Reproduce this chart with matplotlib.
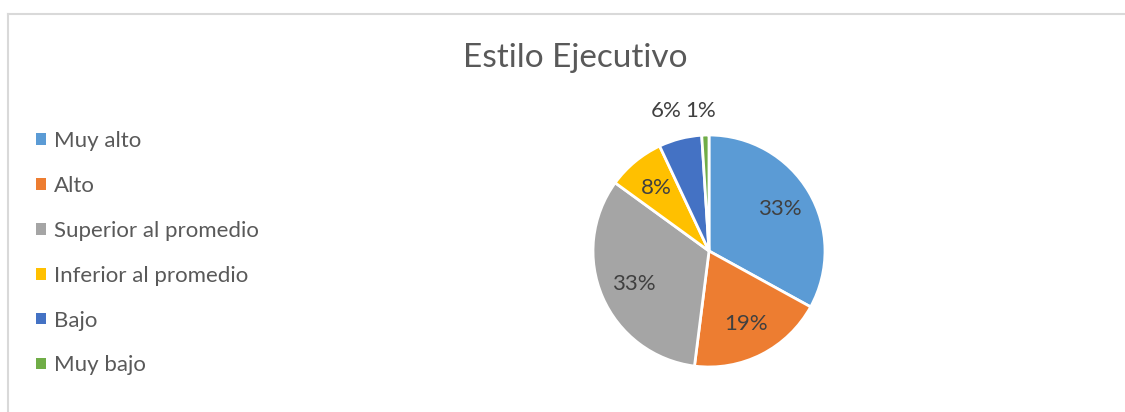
import matplotlib.pyplot as plt
from matplotlib.lines import Line2D
import numpy as np

# datos del grafico
categorias = ['Muy alto', 'Alto', 'Superior al promedio', 'Inferior al promedio', 'Bajo', 'Muy bajo']
porcentajes = [33, 19, 33, 8, 6, 1]
colores = ['#5B9BD5', '#ED7D31', '#A5A5A5', '#FFC000', '#4472C4', '#70AD47']

plt.rcParams['font.family'] = ['Lato', 'DejaVu Sans']

W, H = 1125, 412
fig = plt.figure(figsize=(W / 100, H / 100), dpi=100)

# marco gris del area del grafico
fig.add_artist(Line2D([8 / W, 1.0], [1 - 14 / H, 1 - 14 / H], color='#D9D9D9', lw=1.5))
fig.add_artist(Line2D([8 / W, 8 / W], [0, 1 - 14 / H], color='#D9D9D9', lw=1.5))

fig.text(575 / W, 1 - 58 / H, 'Estilo Ejecutivo', ha='center', va='center',
         fontsize=24, color='#595959')

# el pie
cx, cy, r = 709, 251, 116
ax = fig.add_axes([(cx - r) / W, (H - cy - r) / H, 2 * r / W, 2 * r / H])
wedges, textos, autotextos = ax.pie(porcentajes, colors=colores, startangle=90, counterclock=False,
                                    autopct='%1.0f%%', pctdistance=0.71,
                                    wedgeprops=dict(edgecolor='white', linewidth=2),
                                    textprops=dict(fontsize=16, color='#404040'))
ax.set_xlim(-1, 1)
ax.set_ylim(-1, 1)
ax.set_aspect('equal')

# las etiquetas pequeñas van afuera (un poco separadas entre si)
for w, t, d, extra in zip(wedges[4:], autotextos[4:], [1.26, 1.21], [2.8, 1.6]):
    ang = np.deg2rad((w.theta1 + w.theta2) / 2 + extra)
    t.set_position((d * np.cos(ang), d * np.sin(ang)))

leg = fig.legend(wedges, categorias, loc='upper left', bbox_to_anchor=(16 / W, 1 - 111 / H),
                 frameon=False, fontsize=16, labelcolor='#595959', borderpad=0.4,
                 handlelength=0.43, handleheight=0.43, handletextpad=0.36, labelspacing=1.12)
for h in leg.legend_handles:
    h.set_edgecolor('none')

fig.savefig('out.png', dpi=100)
